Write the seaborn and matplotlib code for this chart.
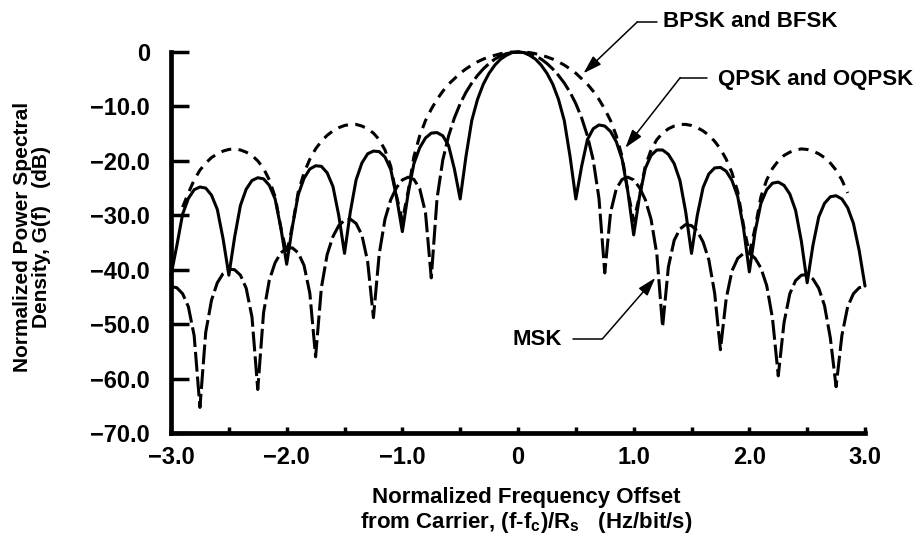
import numpy as np
import pandas as pd
import matplotlib
matplotlib.use("Agg")
import matplotlib.pyplot as plt
import seaborn as sns

# ---------------- data ----------------
freq = np.round(np.linspace(-3.0, 3.0, 121), 2)   # sample grid, step 0.05

qpsk_db = [
    -41.0, -35.6, -29.8, -26.9, -25.3, -24.8, -25.0, -26.3, -28.9, -34.3,
    -41.0, -34.0, -28.2, -25.2, -23.6, -23.1, -23.3, -24.5, -27.0, -32.4,
    -39.0, -32.0, -26.2, -23.2, -21.5, -20.9, -21.0, -22.2, -24.7, -30.0,
    -37.0, -29.4, -23.5, -20.4, -18.7, -18.2, -18.3, -19.3, -21.6, -26.7,
    -33.0, -26.0, -20.5, -17.6, -15.8, -14.9, -14.8, -15.4, -17.2, -21.5,
    -27.0, -19.2, -12.6, -8.7, -5.9, -3.9, -2.4, -1.3, -0.6, -0.1,
    0.0,
    -0.1, -0.6, -1.3, -2.4, -3.9, -5.9, -8.7, -12.6, -19.2, -27.0,
    -21.0, -16.1, -14.1, -13.4, -13.6, -14.6, -16.5, -19.7, -25.7, -33.6,
    -26.6, -21.4, -19.0, -18.0, -18.0, -18.8, -20.5, -23.6, -29.4, -37.0,
    -30.0, -24.9, -22.4, -21.3, -21.2, -21.9, -23.6, -26.6, -32.4, -40.4,
    -33.0, -27.8, -25.3, -24.1, -23.9, -24.5, -26.1, -29.1, -34.8, -42.4,
    -35.5, -30.3, -27.8, -26.6, -26.4, -27.0, -28.6, -31.5, -36.5, -43.0,
]

# BPSK is drawn from -2.90 to 2.85
bpsk_freq = freq[2:118]
bpsk_db = [
    -28.5, -25.9, -23.5, -21.7, -20.4, -19.4, -18.7, -18.2, -17.9, -17.8,
    -18.0, -18.4, -19.0, -20.0, -21.4, -23.5, -26.6, -32.3, -37.0, -31.9,
    -25.7, -22.2, -19.7, -17.8, -16.4, -15.3, -14.5, -13.9, -13.5, -13.3,
    -13.3, -13.6, -14.1, -14.9, -16.1, -18.0, -21.0, -26.5, -31.0, -25.6,
    -19.2, -15.4, -12.6, -10.5, -8.7, -7.2, -5.9, -4.9, -3.9, -3.1,
    -2.4, -1.8, -1.3, -0.9, -0.6, -0.3, -0.1, 0.0,
    0.0, 0.0, -0.1, -0.3, -0.6, -0.9, -1.3, -1.8, -2.4, -3.1,
    -3.9, -4.9, -5.9, -7.2, -8.7, -10.5, -12.6, -15.4, -19.2, -25.6,
    -31.0, -26.5, -21.0, -18.0, -16.1, -14.9, -14.1, -13.6, -13.3, -13.3,
    -13.5, -13.9, -14.5, -15.3, -16.4, -17.8, -19.7, -22.2, -25.7, -31.9,
    -37.0, -32.3, -26.6, -23.5, -21.4, -20.0, -19.0, -18.4, -18.0, -17.8,
    -17.9, -18.2, -18.7, -19.4, -20.4, -21.7, -23.5, -25.9,
]

msk_db = [
    -43.1, -43.3, -44.4, -46.8, -52.1, -65.3, -51.5, -45.6, -42.4, -40.7,
    -39.9, -40.0, -41.0, -43.4, -48.7, -62.0, -47.9, -41.9, -38.7, -36.9,
    -36.0, -36.0, -36.9, -39.2, -44.3, -56.0, -43.3, -37.2, -33.9, -31.9,
    -30.9, -30.7, -31.5, -33.6, -38.5, -48.8, -37.1, -30.7, -27.1, -24.9,
    -23.5, -23.0, -23.4, -25.1, -29.5, -41.5, -26.9, -19.8, -15.4, -12.1,
    -9.5, -7.4, -5.7, -4.3, -3.1, -2.1, -1.3, -0.7, -0.3, -0.1,
    0.0,
    -0.1, -0.3, -0.7, -1.3, -2.1, -3.1, -4.3, -5.7, -7.4, -9.5,
    -12.1, -15.4, -19.8, -26.9, -40.6, -29.5, -25.1, -23.4, -23.0, -23.5,
    -24.9, -27.1, -30.7, -37.1, -50.5, -39.5, -34.6, -32.5, -31.7, -31.9,
    -32.9, -34.9, -38.2, -44.3, -54.7, -45.3, -40.2, -37.9, -37.0, -37.0,
    -37.9, -39.7, -42.9, -48.9, -59.5, -49.7, -44.4, -42.0, -41.0, -40.9,
    -41.7, -43.4, -46.6, -52.5, -61.5, -52.1, -46.8, -44.4, -43.3, -43.1,
]

x_major = [-3.0, -2.0, -1.0, 0.0, 1.0, 2.0, 3.0]
x_labels = ["\u22123.0", "\u22122.0", "\u22121.0", "0", "1.0", "2.0", "3.0"]
x_minor = [-2.5, -1.5, -0.5, 0.5, 1.5, 2.5]
y_ticks = [0, -10, -20, -30, -40, -50, -60, -70]
y_labels = ["0", "\u221210.0", "\u221220.0", "\u221230.0", "\u221240.0",
            "\u221250.0", "\u221260.0", "\u221270.0"]

# ---------------- style ----------------
sns.set_theme(style="white")
plt.rcParams["font.family"] = ["Liberation Sans", "DejaVu Sans"]
plt.rcParams["font.weight"] = "bold"
plt.rcParams["text.color"] = "black"
plt.rcParams["axes.labelcolor"] = "black"
plt.rcParams["xtick.color"] = "black"
plt.rcParams["ytick.color"] = "black"
plt.rcParams["mathtext.fontset"] = "custom"
plt.rcParams["mathtext.rm"] = "Liberation Sans:bold"
plt.rcParams["mathtext.it"] = "Liberation Sans:bold"
plt.rcParams["mathtext.bf"] = "Liberation Sans:bold"

fig = plt.figure(figsize=(9.17, 5.33), dpi=100)
ax = fig.add_axes([0.1865, 0.1876, 0.7568, 0.7148])

df_q = pd.DataFrame({"f": freq, "G": qpsk_db})
df_b = pd.DataFrame({"f": bpsk_freq, "G": bpsk_db})
df_m = pd.DataFrame({"f": freq, "G": msk_db})

sns.lineplot(data=df_m, x="f", y="G", ax=ax, color="black", lw=2.2,
             linestyle=(0, (6.5, 1.6)), estimator=None, sort=False, clip_on=False)
sns.lineplot(data=df_b, x="f", y="G", ax=ax, color="black", lw=2.2,
             linestyle=(0, (3.3, 2.4)), estimator=None, sort=False, clip_on=False)
sns.lineplot(data=df_q, x="f", y="G", ax=ax, color="black", lw=2.2,
             linestyle="-", estimator=None, sort=False, clip_on=False)

ax.set_xlim(-3, 3)
ax.set_ylim(-70, 0)
ax.set_xticks(x_major)
ax.set_xticklabels(x_labels)
ax.set_xticks(x_minor, minor=True)
ax.set_yticks(y_ticks)
ax.set_yticklabels(y_labels)
ax.set_xlabel("")
ax.set_ylabel("")

sns.despine(ax=ax)
for s in ("left", "bottom"):
    ax.spines[s].set_linewidth(3.4)
    ax.spines[s].set_color("black")

ax.tick_params(axis="y", direction="in", length=13, width=2.5, pad=15,
               labelsize=17, colors="black", left=True)
ax.tick_params(axis="x", which="both", direction="in", length=4.5, width=2.5,
               pad=9, labelsize=17, colors="black", bottom=True)

# ---------------- annotations ----------------
arrow_kw = dict(arrowstyle="-|>,head_length=0.8,head_width=0.25", color="black",
                lw=1.1, shrinkA=0, shrinkB=0, mutation_scale=14)

ax.plot([1.20, 1.03], [5.5, 5.5], color="black", lw=1.1, clip_on=False)
ax.annotate("", xy=(0.566, -3.9), xytext=(1.03, 5.5), arrowprops=arrow_kw,
            annotation_clip=False)
ax.text(1.256, 5.6, "BPSK and BFSK", fontsize=16, fontweight="bold",
        color="black", ha="left", va="center", clip_on=False)

ax.plot([1.636, 1.403], [-4.7, -4.7], color="black", lw=1.1, clip_on=False)
ax.annotate("", xy=(0.928, -17.6), xytext=(1.403, -4.7), arrowprops=arrow_kw,
            annotation_clip=False)
ax.text(1.731, -5.0, "QPSK and OQPSK", fontsize=16, fontweight="bold",
        color="black", ha="left", va="center", clip_on=False)

ax.plot([0.479, 0.73], [-52.7, -52.7], color="black", lw=1.1, clip_on=False)
ax.annotate("", xy=(1.187, -41.5), xytext=(0.73, -52.7), arrowprops=arrow_kw,
            annotation_clip=False)
ax.text(0.384, -52.9, "MSK", fontsize=16, fontweight="bold",
        color="black", ha="right", va="center", clip_on=False)

# ---------------- axis titles ----------------
fig.text(0.035, 0.555, "Normalized Power Spectral\nDensity, G(f)   (dB)",
         rotation=90, ha="center", va="center", multialignment="center",
         fontsize=15, fontweight="bold", color="black", linespacing=1.05)
fig.text(0.5736, 0.0675, "Normalized Frequency Offset", ha="center",
         va="center", fontsize=16, fontweight="bold", color="black")
fig.text(0.5736, 0.0206,
         r"from Carrier, (f-$\mathrm{f_c}$)/$\mathrm{R_s}$   (Hz/bit/s)",
         ha="center", va="center", fontsize=16, fontweight="bold", color="black")

fig.savefig("out.png", dpi=100)
